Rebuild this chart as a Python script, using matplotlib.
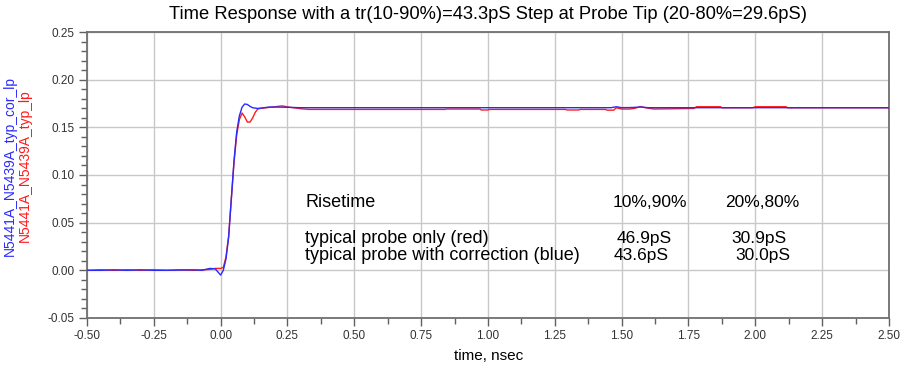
import matplotlib
matplotlib.use("Agg")
import matplotlib.pyplot as plt
from matplotlib.ticker import MultipleLocator

plt.rcParams["font.family"] = ["Liberation Sans", "DejaVu Sans"]

# Blue trace: N5441A_N5439A_typ_cor_lp (probe with correction)
t_azul = [-0.50, -0.45, -0.40, -0.35, -0.30, -0.25, -0.20, -0.15, -0.10, -0.07,
          -0.04, -0.02, 0.00, 0.01, 0.02, 0.03, 0.04, 0.05, 0.06, 0.07,
          0.08, 0.09, 0.10, 0.11, 0.12, 0.14, 0.16, 0.18, 0.20, 0.25,
          0.30, 0.60, 1.00, 1.40, 1.46, 1.48, 1.50, 1.54, 1.57, 1.60,
          1.65, 2.00, 2.50]
v_azul = [0.0000, 0.0000, 0.0005, 0.0000, 0.0005, 0.0000, 0.0000, 0.0003, 0.0005, 0.0000,
          0.0020, 0.0015, -0.0050, 0.0000, 0.0120, 0.0350, 0.0750, 0.1150, 0.1450, 0.1620,
          0.1710, 0.1745, 0.1740, 0.1720, 0.1705, 0.1698, 0.1705, 0.1712, 0.1713, 0.1710,
          0.1706, 0.1706, 0.1706, 0.1706, 0.1706, 0.1716, 0.1706, 0.1708, 0.1713, 0.1706,
          0.1706, 0.1706, 0.1706]

# Red trace: N5441A_N5439A_typ_lp (probe only)
t_verm = [-0.50, -0.45, -0.40, -0.35, -0.30, -0.25, -0.20, -0.15, -0.10, -0.07,
          -0.04, -0.02, 0.00, 0.01, 0.02, 0.03, 0.04, 0.05, 0.06, 0.07,
          0.08, 0.09, 0.10, 0.11, 0.12, 0.13, 0.14, 0.16, 0.20, 0.23,
          0.26, 0.30, 0.33, 0.84, 0.845, 0.97, 0.975, 1.00, 1.005, 1.29,
          1.295, 1.34, 1.345, 1.44, 1.445, 1.47, 1.48, 1.50, 1.53, 1.55,
          1.57, 1.59, 1.62, 1.70, 1.77, 1.78, 1.87, 1.875, 1.99, 2.00,
          2.115, 2.12, 2.50]
v_verm = [0.0000, 0.0005, 0.0000, 0.0005, 0.0000, 0.0005, 0.0000, 0.0005, 0.0000, 0.0005,
          0.0010, 0.0020, 0.0020, 0.0030, 0.0140, 0.0360, 0.0750, 0.1130, 0.1420, 0.1580,
          0.1650, 0.1610, 0.1555, 0.1555, 0.1600, 0.1660, 0.1695, 0.1702, 0.1715, 0.1725,
          0.1710, 0.1695, 0.1688, 0.1688, 0.1692, 0.1692, 0.1682, 0.1682, 0.1688, 0.1688,
          0.1682, 0.1682, 0.1688, 0.1688, 0.1680, 0.1680, 0.1705, 0.1692, 0.1692, 0.1700,
          0.1718, 0.1705, 0.1692, 0.1695, 0.1698, 0.1716, 0.1716, 0.1705, 0.1705, 0.1716,
          0.1716, 0.1705, 0.1705]

# Risetime table
cabecalho = ["Risetime", "10%,90%", "20%,80%"]
linhas = [
    ["typical probe only (red)", "46.9pS", "30.9pS"],
    ["typical probe with correction (blue)", "43.6pS", "30.0pS"],
]

AZUL = "#2a2aff"
VERMELHO = "#ff1a1a"

fig = plt.figure(figsize=(9.04, 3.73), dpi=100)
ax = fig.add_axes([0.0962, 0.1475, 0.8872, 0.7667])

ax.plot(t_verm, v_verm, color=VERMELHO, linewidth=1.0, zorder=3)
ax.plot(t_azul, v_azul, color=AZUL, linewidth=1.0, zorder=4)

ax.set_xlim(-0.5, 2.5)
ax.set_ylim(-0.05, 0.25)
ax.xaxis.set_major_locator(MultipleLocator(0.25))
ax.xaxis.set_minor_locator(MultipleLocator(0.125))
ax.yaxis.set_major_locator(MultipleLocator(0.05))
ax.yaxis.set_minor_locator(MultipleLocator(0.01))
ax.xaxis.set_major_formatter(plt.FuncFormatter(lambda v, p: f"{v:.2f}"))
ax.yaxis.set_major_formatter(plt.FuncFormatter(lambda v, p: f"{v:.2f}"))
ax.tick_params(which="major", direction="out", length=6, width=1, color="#606060",
               labelsize=8.5, labelcolor="#333333", pad=3)
ax.tick_params(which="minor", direction="out", length=4, width=1, color="#606060")
ax.grid(True, which="major", color="#c8c8c8", linewidth=1.0)
ax.set_axisbelow(True)
for lado in ax.spines.values():
    lado.set_color("#707070")
    lado.set_linewidth(1.3)

# Risetime table text (first column a bit wider, as in the original)
xs = [0.316, 1.468, 1.887]
tamanhos = [13, 12.5, 12.5]
for x, txt, fs in zip(xs, cabecalho, tamanhos):
    ax.text(x, 0.071, txt, fontsize=fs, ha="left", va="center")
xs_linhas = [[0.316, 1.483, 1.909], [0.316, 1.471, 1.924]]
for y, linha, xl in zip([0.0335, 0.0160], linhas, xs_linhas):
    for x, txt, fs in zip(xl, linha, tamanhos):
        ax.text(x, y, txt, fontsize=fs, ha="left", va="center")

fig.text(0.54, 0.962,
         "Time Response with a tr(10-90%)=43.3pS Step at Probe Tip (20-80%=29.6pS)",
         fontsize=13.2, ha="center", va="center")
fig.text(0.54, 0.045, "time, nsec", fontsize=11, ha="center", va="center")
fig.text(0.011, 0.555, "N5441A_N5439A_typ_cor_lp", rotation=90, color=AZUL,
         fontsize=10, ha="center", va="center")
fig.text(0.027, 0.555, "N5441A_N5439A_typ_lp", rotation=90, color=VERMELHO,
         fontsize=10, ha="center", va="center")

fig.savefig("out.png", dpi=100)
